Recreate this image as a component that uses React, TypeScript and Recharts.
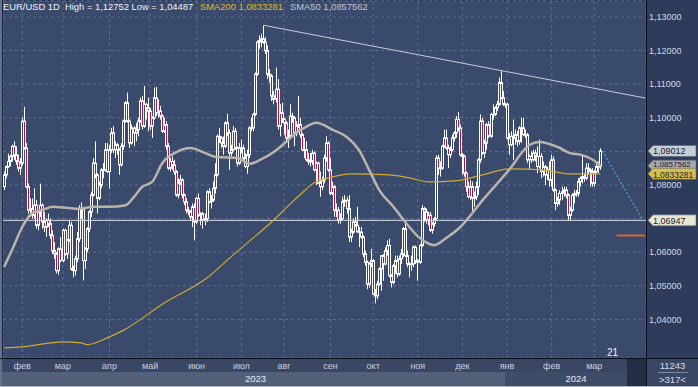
import React from 'react';
import { ComposedChart, Bar, Line, XAxis, YAxis, CartesianGrid, ReferenceLine } from 'recharts';

const FONT = '"Liberation Sans", Arial, sans-serif';

// EUR/USD 1D, 19 Jan 2023 .. 6 Mar 2024
// [open, high, low, close] in pips above 1.0000 (850 -> 1.0850)
const candles: number[][] = [
  // jan 2023
  [795, 840, 785, 830], [830, 858, 820, 855], [855, 893, 850, 870], [870, 890, 855, 885], [885, 920, 870, 915],
  [915, 930, 875, 890], [890, 915, 860, 870], [870, 890, 840, 850], [850, 880, 830, 865],
  // feb
  [865, 1000, 858, 990], [990, 1033, 905, 910], [910, 925, 790, 795], [795, 805, 715, 725], [725, 760, 705, 730],
  [730, 760, 700, 710], [710, 790, 700, 740], [740, 755, 670, 680], [680, 725, 665, 720], [720, 804, 705, 740],
  [740, 745, 670, 690], [690, 720, 660, 675], [675, 700, 645, 695], [695, 715, 675, 685], [685, 700, 640, 650],
  [650, 665, 595, 605], [605, 630, 580, 595], [595, 600, 537, 545], [545, 615, 533, 610], [610, 645, 570, 575],
  // mar
  [575, 670, 570, 665], [665, 670, 590, 595], [595, 640, 580, 635], [635, 694, 630, 680], [680, 690, 545, 550],
  [550, 560, 525, 545], [545, 590, 530, 580], [580, 660, 570, 640], [640, 740, 630, 730], [730, 748, 700, 730],
  [730, 735, 516, 575], [575, 615, 550, 610], [610, 675, 600, 670], [670, 725, 660, 720], [720, 780, 705, 770],
  [770, 880, 765, 865], [865, 930, 820, 830], [830, 835, 715, 760], [760, 810, 755, 800], [800, 850, 790, 845],
  [845, 865, 820, 845], [845, 925, 840, 905], [905, 925, 835, 840],
  // apr
  [840, 920, 790, 905], [905, 970, 895, 955], [955, 975, 895, 905], [905, 930, 880, 920], [920, 925, 890, 905],
  [905, 910, 830, 860], [860, 925, 855, 915], [915, 995, 905, 990], [990, 1050, 985, 1045], [1045, 1075, 985, 990],
  [990, 995, 910, 925], [925, 980, 920, 970], [970, 975, 915, 955], [955, 985, 930, 965], [965, 1000, 945, 990],
  [990, 1060, 985, 1050], [1050, 1065, 965, 975], [975, 1095, 970, 1040], [1040, 1045, 995, 1030], [1030, 1060, 960, 1020],
  // may
  [1020, 1030, 965, 975], [975, 1005, 940, 1000], [1000, 1090, 995, 1060], [1060, 1092, 1005, 1015], [1015, 1055, 1000, 1020],
  [1020, 1035, 995, 1005], [1005, 1010, 955, 960], [960, 1000, 955, 980], [980, 990, 905, 915], [915, 925, 845, 850],
  [850, 880, 840, 870], [870, 885, 845, 860], [860, 875, 830, 840], [840, 845, 765, 770], [770, 820, 760, 805],
  [805, 830, 800, 815], [815, 820, 760, 770], [770, 775, 740, 750], [750, 760, 715, 725], [725, 735, 710, 720],
  [720, 725, 695, 705], [705, 745, 675, 735], [735, 745, 635, 690],
  // jun
  [690, 765, 685, 760], [760, 775, 705, 710], [710, 720, 680, 715], [715, 720, 670, 695], [695, 715, 680, 700],
  [700, 785, 690, 780], [780, 790, 745, 750], [750, 770, 730, 755], [755, 810, 750, 790], [790, 865, 775, 830],
  [830, 950, 825, 945], [945, 970, 925, 940], [940, 945, 910, 925], [925, 945, 890, 915], [915, 990, 910, 985],
  [985, 1012, 945, 955], [955, 965, 845, 895], [895, 920, 885, 905], [905, 975, 900, 960], [960, 970, 905, 910],
  [910, 915, 855, 865], [865, 925, 860, 910],
  // jul
  [910, 935, 895, 910], [910, 920, 875, 880], [880, 895, 850, 855], [855, 905, 833, 890], [890, 975, 880, 970],
  [970, 1000, 960, 970], [970, 1015, 960, 1010], [1010, 1135, 1005, 1130], [1130, 1230, 1125, 1225], [1225, 1245, 1205, 1230],
  [1230, 1250, 1210, 1235], [1235, 1275, 1220, 1225], [1225, 1240, 1190, 1200], [1200, 1215, 1115, 1130], [1130, 1145, 1105, 1125],
  [1125, 1130, 1050, 1065], [1065, 1080, 1040, 1055], [1055, 1150, 1045, 1085], [1085, 1115, 965, 975], [975, 1040, 945, 1015],
  [1015, 1045, 985, 995],
  // aug
  [995, 1000, 950, 985], [985, 990, 925, 940], [940, 965, 910, 945], [945, 1040, 940, 1005], [1005, 1015, 985, 1000],
  [1000, 1005, 915, 955], [955, 990, 945, 975], [975, 1065, 970, 980], [980, 1000, 940, 950], [950, 955, 900, 905],
  [905, 940, 880, 905], [905, 930, 870, 875], [875, 895, 860, 870], [870, 895, 855, 870], [870, 905, 860, 895],
  [895, 900, 840, 845], [845, 870, 800, 865], [865, 870, 805, 805], [805, 840, 765, 795], [795, 825, 785, 815],
  [815, 890, 805, 880], [880, 945, 870, 925], [925, 930, 840, 845],
  // sep
  [845, 880, 770, 775], [775, 810, 770, 795], [795, 800, 705, 725], [725, 745, 705, 725], [725, 735, 685, 695],
  [695, 715, 685, 700], [700, 765, 695, 750], [750, 770, 735, 755], [755, 765, 715, 730], [730, 770, 630, 645],
  [645, 670, 630, 660], [660, 700, 655, 690], [690, 705, 675, 680], [680, 735, 660, 660], [660, 675, 615, 660],
  [660, 675, 640, 645], [645, 650, 585, 595], [595, 605, 560, 570], [570, 575, 490, 505], [505, 570, 495, 565],
  [565, 610, 555, 575],
  // oct
  [575, 580, 475, 475], [475, 490, 448, 470], [470, 515, 460, 505], [505, 555, 500, 550], [550, 590, 485, 590],
  [590, 595, 515, 565], [565, 615, 560, 605], [605, 635, 590, 620], [620, 640, 525, 530], [530, 535, 495, 510],
  [510, 565, 505, 560], [560, 590, 535, 575], [575, 590, 525, 535], [535, 590, 530, 580], [580, 610, 565, 595],
  [595, 675, 585, 670], [670, 695, 585, 590], [590, 605, 555, 565], [565, 570, 525, 565], [565, 590, 545, 565],
  [565, 620, 555, 615], [615, 620, 565, 575],
  // nov
  [575, 580, 515, 570], [570, 625, 565, 620], [620, 740, 615, 730], [730, 735, 690, 720], [720, 730, 685, 695],
  [695, 720, 680, 710], [710, 720, 660, 665], [665, 690, 655, 685], [685, 705, 675, 700], [700, 888, 695, 880],
  [880, 890, 830, 850], [850, 870, 825, 850], [850, 920, 845, 915], [915, 965, 910, 940], [940, 965, 905, 910],
  [910, 920, 850, 890], [890, 915, 880, 905], [905, 950, 900, 940], [940, 960, 930, 955], [955, 1005, 940, 995],
  [995, 1017, 960, 970], [970, 980, 885, 890],
  // dec
  [890, 895, 830, 885], [885, 890, 825, 835], [835, 840, 780, 795], [795, 810, 760, 765], [765, 815, 755, 795],
  [795, 810, 723, 760], [760, 780, 735, 765], [765, 810, 755, 795], [795, 880, 770, 875], [875, 1010, 865, 990],
  [990, 1000, 890, 895], [895, 935, 880, 925], [925, 985, 905, 980], [980, 990, 940, 945], [945, 1015, 940, 1010],
  [1010, 1040, 995, 1010], [1010, 1035, 1005, 1030], [1030, 1050, 1020, 1040], [1040, 1120, 1035, 1105], [1105, 1139, 1055, 1060],
  [1060, 1080, 1035, 1040],
  // jan 2024
  [1040, 1045, 1030, 1040], [1040, 1045, 935, 940], [940, 955, 890, 920], [920, 960, 915, 945], [945, 995, 875, 940],
  [940, 965, 920, 950], [950, 960, 915, 930], [930, 975, 920, 970], [970, 1000, 925, 970], [970, 1000, 945, 950],
  [950, 965, 940, 950], [950, 955, 865, 875], [875, 890, 845, 885], [885, 900, 865, 875], [875, 905, 870, 895],
  [895, 905, 870, 885], [885, 915, 835, 855], [855, 935, 850, 885], [885, 895, 820, 840], [840, 870, 825, 855],
  [855, 860, 800, 830], [830, 855, 815, 845], [845, 870, 795, 815],
  // feb
  [815, 890, 795, 875], [875, 885, 780, 785], [785, 790, 725, 745], [745, 765, 735, 755], [755, 785, 740, 775],
  [775, 795, 755, 780], [780, 795, 765, 785], [785, 795, 760, 770], [770, 775, 695, 710], [710, 735, 695, 725],
  [725, 775, 720, 770], [770, 785, 745, 775], [775, 785, 765, 775], [775, 820, 765, 810], [810, 825, 795, 820],
  [820, 890, 805, 825], [825, 835, 810, 820], [820, 865, 815, 850], [850, 865, 830, 845], [845, 850, 795, 840],
  [840, 850, 795, 805],
  // mar
  [805, 845, 795, 840], [840, 865, 835, 855], [855, 870, 835, 855], [855, 910, 845, 901.2],
];

const SLOTS = 317;

const monthTicks = [9, 29, 52, 72, 95, 117, 138, 161, 182, 204, 226, 248, 270, 291];
const monthLabels = ['фев', 'мар', 'апр', 'май', 'июн', 'июл', 'авг', 'сен', 'окт', 'ноя', 'дек', 'янв', 'фев', 'мар'];
const yearTicks = [124, 282];
const yearLabels = ['2023', '2024'];

const priceTicks = [1.04, 1.05, 1.06, 1.07, 1.08, 1.09, 1.1, 1.11, 1.12, 1.13];
const hiddenPriceTicks = [1.07, 1.09];

const sma200Idx = [0, 9, 23, 29, 38, 41, 52, 59, 79, 100, 113, 121, 133, 141, 148, 152, 162, 171, 190, 200, 210, 222, 236, 249, 266, 279, 294];
const sma200Val = [1.0315, 1.0318, 1.033, 1.0333, 1.033, 1.0325, 1.0348, 1.0368, 1.0449, 1.0523, 1.0592, 1.0633, 1.0696, 1.0743, 1.0782, 1.0803, 1.0824, 1.0833, 1.083, 1.0821, 1.0809, 1.0812, 1.083, 1.0848, 1.0845, 1.0833, 1.0833281];

const sma50Idx = [0, 4, 9, 14, 19, 24, 31, 37, 44, 52, 60, 64, 68, 73, 78, 85, 92, 98, 105, 115, 121, 126, 133, 139, 144, 148, 154, 162, 169, 175, 180, 185, 192, 199, 205, 212, 218, 225, 236, 249, 259, 264, 273, 279, 285, 292, 294];
const sma50Val = [1.0556, 1.0607, 1.0675, 1.0717, 1.0726, 1.0735, 1.0732, 1.0729, 1.0735, 1.0735, 1.074, 1.0764, 1.0794, 1.0809, 1.0865, 1.0898, 1.091, 1.0898, 1.0883, 1.088, 1.0863, 1.0874, 1.0898, 1.0928, 1.0955, 1.097, 1.0985, 1.0964, 1.0943, 1.0904, 1.0845, 1.0785, 1.0735, 1.0681, 1.0642, 1.0621, 1.0642, 1.0675, 1.0755, 1.0845, 1.0919, 1.0928, 1.0913, 1.0895, 1.0889, 1.0868, 1.0857562];

const trendIdx = [128, 316];
const trendVal = [1.12752, 1.1059];
const projIdx = [295, 315];
const projVal = [1.09012, 1.06947];
const targetIdx = [302, 316];
const targetVal = [1.065, 1.065];

const data: any[] = Array.from({ length: SLOTS }, (_, i) => {
  const row: any = { i };
  const k = candles[i];
  if (k) {
    row.o = 1 + k[0] / 10000;
    row.h = 1 + k[1] / 10000;
    row.l = 1 + k[2] / 10000;
    row.c = 1 + k[3] / 10000;
  }
  return row;
});
sma200Idx.forEach((idx, n) => (data[idx].sma200 = sma200Val[n]));
sma50Idx.forEach((idx, n) => (data[idx].sma50 = sma50Val[n]));
trendIdx.forEach((idx, n) => (data[idx].trend = trendVal[n]));
projIdx.forEach((idx, n) => (data[idx].proj = projVal[n]));
targetIdx.forEach((idx, n) => (data[idx].target = targetVal[n]));

const PLOT_BG = '#394a6c';

const Candle = (props: any) => {
  const { x, y, width, height, payload } = props;
  if (!payload || payload.h == null) return <g />;
  const { o, h, l, c } = payload;
  const top = Math.min(y, y + height);
  const size = Math.abs(height);
  const span = h - l || 1e-9;
  const py = (v: number) => top + ((h - v) / span) * size;
  const left = Math.round(x + width / 2 - 1.5);
  const bTop = py(Math.max(o, c));
  const bBot = py(Math.min(o, c));
  const up = c >= o;
  return (
    <g>
      <line x1={left + 1.5} x2={left + 1.5} y1={top} y2={top + size} stroke="#ffffff" strokeWidth={1} />
      <rect
        x={left + 0.5}
        y={bTop}
        width={2}
        height={Math.max(bBot - bTop, 0.6)}
        fill={up ? PLOT_BG : '#b3123f'}
        stroke="#ffffff"
        strokeWidth={1}
      />
    </g>
  );
};

const PriceTick = ({ y, payload }: any) => {
  const v = payload.value;
  if (hiddenPriceTicks.some((t) => Math.abs(t - v) < 1e-6)) return <g />;
  return (
    <text x={649} y={y + 3.2} fill="#d3d8e4" fontSize={9} fontFamily={FONT}>
      {v.toFixed(5).replace('.', ',')}
    </text>
  );
};

const MonthTick = ({ x, payload }: any) => {
  const n = monthTicks.indexOf(payload.value);
  return (
    <text x={x} y={369} textAnchor="middle" fill="#c8d0e0" fontSize={9} fontFamily={FONT}>
      {monthLabels[n]}
    </text>
  );
};

const YearTick = ({ x, payload }: any) => {
  const n = yearTicks.indexOf(payload.value);
  return (
    <text x={x} y={382} textAnchor="middle" fill="#e6eaf2" fontSize={9.5} fontFamily={FONT}>
      {yearLabels[n]}
    </text>
  );
};

// dy shifts the text inside its tag so neighbouring tags stay readable
const PriceTag = ({ viewBox, text, bg, dy = 3.2, size = 9 }: any) => {
  if (!viewBox) return <g />;
  const x0 = viewBox.x + viewBox.width + 2;
  const y0 = viewBox.y;
  const pts = `${x0},${y0} ${x0 + 5},${y0 - 5.5} ${x0 + 48},${y0 - 5.5} ${x0 + 48},${y0 + 5.5} ${x0 + 5},${y0 + 5.5}`;
  return (
    <g>
      <polygon points={pts} fill={bg} stroke="#5d6578" strokeWidth={0.6} />
      <text x={x0 + 5} y={y0 + dy} fill="#1a2033" fontSize={size} fontFamily={FONT}>
        {text}
      </text>
    </g>
  );
};

const abs = (s: React.CSSProperties): React.CSSProperties => ({ position: 'absolute', ...s });

export default function App() {
  return (
    <div style={{ position: 'relative', width: 698, height: 387, overflow: 'hidden', background: '#2e3c5c', fontFamily: FONT }}>
      <style>{'body{margin:0}'}</style>
      {/* chrome behind the chart */}
      <div style={abs({ left: 647, top: 0, width: 51, height: 358, background: '#2e3c5c' })} />
      <div style={abs({ left: 0, top: 359, width: 627, height: 13, background: '#3a4764' })} />
      <div style={abs({ left: 0, top: 372, width: 505, height: 15, background: '#526079' })} />
      <div style={abs({ left: 505, top: 372, width: 122, height: 15, background: '#3e4c68' })} />
      <div style={abs({ left: 627, top: 359, width: 19, height: 28, background: '#232d47' })} />
      <div style={abs({ left: 647, top: 359, width: 51, height: 28, background: '#3a4764' })} />
      <div style={abs({ left: 0, top: 0, width: 2, height: 387, background: '#62718c' })} />

      <ComposedChart width={698} height={387} data={data} margin={{ top: 1, right: 0, bottom: 0, left: 3 }}>
        <CartesianGrid fill={PLOT_BG} fillOpacity={1} stroke="#5d6e92" strokeDasharray="3 3" />
        <XAxis
          dataKey="i"
          ticks={monthTicks}
          interval={0}
          height={14}
          axisLine={false}
          tickLine={false}
          tick={<MonthTick />}
        />
        <XAxis
          xAxisId="yr"
          dataKey="i"
          ticks={yearTicks}
          interval={0}
          height={15}
          axisLine={false}
          tickLine={false}
          tick={<YearTick />}
        />
        <YAxis
          orientation="right"
          type="number"
          domain={[1.02851, 1.13476]}
          allowDataOverflow
          ticks={priceTicks}
          width={52}
          axisLine={false}
          tickLine={false}
          tick={<PriceTick />}
        />
        <ReferenceLine y={1.06947} stroke="#d9dde6" strokeWidth={1} label={<PriceTag text="1,06947" bg="#e8e8d2" />} />
        <Bar
          dataKey={(d: any) => (d.h == null ? null : [d.l, d.h])}
          shape={<Candle />}
          isAnimationActive={false}
        />
        <Line dataKey="sma200" type="monotone" stroke="#d2aa2c" strokeWidth={1.2} dot={false} connectNulls isAnimationActive={false} />
        <Line dataKey="sma50" type="monotone" stroke="#bab3aa" strokeWidth={2.5} dot={false} connectNulls isAnimationActive={false} />
        <Line dataKey="trend" type="linear" stroke="#c9ccd6" strokeWidth={1} dot={false} connectNulls isAnimationActive={false} />
        <Line dataKey="proj" type="linear" stroke="#3c9ad2" strokeWidth={1.5} strokeDasharray="2 2" dot={false} connectNulls isAnimationActive={false} />
        <Line dataKey="target" type="linear" stroke="#cf6a30" strokeWidth={2} dot={false} connectNulls isAnimationActive={false} />
        <ReferenceLine y={1.09012} stroke="none" label={<PriceTag text="1,09012" bg="#c8ccd5" />} />
        <ReferenceLine y={1.0857562} stroke="none" label={<PriceTag text="1,0857562" bg="#a9a9a9" dy={1.6} size={8} />} />
        <ReferenceLine y={1.0833281} stroke="none" label={<PriceTag text="1,0833281" bg="#d6c04a" dy={4.3} size={8.5} />} />
      </ComposedChart>

      {/* frame lines and captions on top */}
      <div style={abs({ left: 0, top: 358, width: 698, height: 1, background: '#0b0f1a' })} />
      <div style={abs({ left: 646, top: 0, width: 1, height: 387, background: '#0b0f1a' })} />
      <div style={abs({ left: 2, top: 0, width: 1, height: 358, background: '#1d2540' })} />
      <div style={abs({ left: 0, top: 386, width: 698, height: 1, background: '#a9b2c2' })} />

      <div style={abs({ left: 3, top: 1, fontSize: 9.4, lineHeight: '11px', color: '#f2f4f8', whiteSpace: 'nowrap' })}>EUR/USD 1D</div>
      <div style={abs({ left: 65, top: 1, fontSize: 9.4, lineHeight: '11px', color: '#f2f4f8', whiteSpace: 'nowrap' })}>High = 1,12752 Low = 1,04487</div>
      <div style={abs({ left: 200, top: 1, fontSize: 9.4, lineHeight: '11px', color: '#e0b830', whiteSpace: 'nowrap' })}>SMA200 1,0833281</div>
      <div style={abs({ left: 290, top: 1, fontSize: 9.4, lineHeight: '11px', color: '#c4c6ce', whiteSpace: 'nowrap' })}>SMA50 1,0857562</div>

      <div style={abs({ left: 607, top: 347, fontSize: 10, lineHeight: '11px', color: '#f0f2f6' })}>21</div>

      <div style={abs({ left: 647, top: 360, width: 51, textAlign: 'center', fontSize: 9.5, lineHeight: '11px', color: '#d5dbe8' })}>11243</div>
      <div style={abs({ left: 658, top: 372, width: 30, height: 1, background: '#7c8aa6' })} />
      <div style={abs({ left: 647, top: 374, width: 51, textAlign: 'center', fontSize: 9.5, lineHeight: '11px', color: '#d5dbe8' })}>&gt;317&lt;</div>
    </div>
  );
}
